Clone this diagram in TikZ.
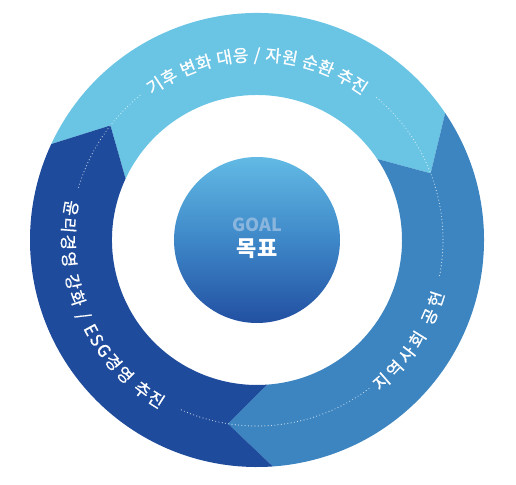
\documentclass[tikz,border=0pt]{standalone}
\usepackage{fontspec}
\newfontfamily\kr{Noto Sans CJK KR}
\newfontfamily\krmed[FakeBold=0.9]{Noto Sans CJK KR}
\usetikzlibrary{decorations.text}

\definecolor{ringlight}{RGB}{106,197,229}
\definecolor{ringmid}{RGB}{61,133,192}
\definecolor{ringdark}{RGB}{30,75,155}
\definecolor{goaltop}{RGB}{98,186,228}
\definecolor{goalmid}{RGB}{62,135,200}
\definecolor{goalbot}{RGB}{34,80,162}
\definecolor{goalgrey}{RGB}{138,182,222}

\begin{document}
\begin{tikzpicture}[x=1pt,y=1pt,
  ringtext/.style={decorate,decoration={text along path,text align=fit to path,
    text color=white,text={|\krmed\fontsize{17}{17}\selectfont|#1}}},
  dots/.style={white,opacity=0.7,line width=1.2pt,dash pattern=on 0pt off 3.3pt,line cap=round}]

\useasboundingbox (-257,-244) rectangle (259,240);

% three arrow parts of the ring
\fill[ringlight] (155:227) arc[start angle=155,end angle=34,radius=227] -- (21:186)
  -- (34:145) arc[start angle=34,end angle=155,radius=145] -- (142:186) -- cycle;
\fill[ringmid] (34:227) arc[start angle=34,end angle=-86,radius=227] -- (-99:186)
  -- (-86:145) arc[start angle=-86,end angle=34,radius=145] -- (21:186) -- cycle;
\fill[ringdark] (-86:227) arc[start angle=-86,end angle=-205,radius=227] -- (-218:186)
  -- (-205:145) arc[start angle=-205,end angle=-86,radius=145] -- (-99:186) -- cycle;

% dotted guide
\draw[dots] (129:186) arc[start angle=129,end angle=164,radius=186];
\draw[dots] (-11:186) arc[start angle=-11,end angle=50,radius=186];
\draw[dots] (-114:186) arc[start angle=-114,end angle=-53,radius=186];

% labels on the ring
\path[ringtext={기후 변화 대응 / 자원 순환 추진}] (126:179) arc[start angle=126,end angle=54,radius=179];
\path[ringtext={윤리경영 강화 / ESG경영 추진}] (168:195) arc[start angle=168,end angle=240,radius=195];
\path[ringtext={지역사회 공헌}] (-51:195) arc[start angle=-51,end angle=-16,radius=195];

% centre
\node[circle,inner sep=0,minimum size=166pt,top color=goaltop,bottom color=goalbot,
  middle color=goalmid] (goal) at (0,0) {};
\node[goalgrey,font=\kr\bfseries\fontsize{18}{18}\selectfont] (goalen) at (0,15) {GOAL};
\node[white,font=\kr\bfseries\fontsize{22}{22}\selectfont] (goalkr) at (0,-9) {목표};

\end{tikzpicture}
\end{document}
